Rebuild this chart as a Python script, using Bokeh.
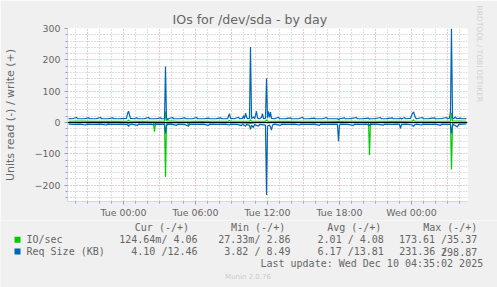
from bokeh.plotting import figure
from bokeh.layouts import column
from bokeh.models import Range1d, FixedTicker, Span, Title
from bokeh.core.properties import value
from bokeh.embed import file_html
from bokeh.resources import INLINE

# ---------------- data (hours relative to Tue 00:00) ----------------
tick_hours = [0, 6, 12, 18, 24]
tick_labels = ["Tue 00:00", "Tue 06:00", "Tue 12:00", "Tue 18:00", "Wed 00:00"]
y_ticks = [-200, -100, 0, 100, 200, 300]

# Req Size (KB) write (+)
req_w_t = [-4.58, -4.25, -3.92, -3.83, -3.25, -2.92, -2.83, -2.25, -1.92, -1.83, -1.25, -0.92, -0.83, -0.25,
           0.25, 0.33, 0.42, 0.5, 0.58, 0.92, 1.08, 1.17, 1.75, 2.08, 2.17, 2.75, 3.08, 3.17, 3.42, 3.5, 3.58,
           3.67, 3.75, 4.08, 4.17, 4.75, 5.08, 5.17, 5.75, 6.08, 6.17, 6.75, 7.08, 7.17, 7.75, 8.08, 8.17, 8.67,
           8.75, 8.83, 8.92, 9.25, 9.58, 9.67, 9.92, 10.0, 10.08, 10.17, 10.25, 10.33, 10.5, 10.58, 10.67, 10.83,
           10.92, 11.0, 11.08, 11.17, 11.33, 11.5, 11.58, 11.67, 11.83, 11.92, 12.0, 12.08, 12.17, 12.25, 12.33,
           12.58, 12.92, 13.0, 13.5, 13.92, 14.0, 14.58, 14.92, 15.0, 15.5, 15.92, 16.0, 16.58, 16.92, 17.0, 17.5,
           17.83, 17.92, 18.0, 18.42, 18.5, 18.92, 19.42, 19.5, 19.92, 20.42, 20.5, 20.58, 20.92, 21.42, 21.5,
           21.92, 22.42, 22.5, 22.92, 23.08, 23.17, 23.42, 23.5, 23.92, 24.0, 24.08, 24.17, 24.25, 24.33, 24.42,
           24.92, 25.0, 25.42, 25.92, 26.0, 26.42, 26.92, 27.0, 27.17, 27.25, 27.33, 27.42, 27.5, 27.67, 27.75,
           28.08, 28.17, 28.58]
req_w = [12.5, 12, 16, 12.5, 12, 15, 12, 12.5, 16, 12, 12, 15, 12, 12.5,
         13, 28, 36, 24, 13, 12, 15, 12, 12.5, 16, 12, 12, 15, 12, 12, 179, 16,
         9, 12, 16, 12, 12, 15, 12.5, 12, 16, 12, 12, 14, 12, 12.5, 15, 12, 12,
         20, 28, 13, 12, 17, 12, 13, 22, 12, 30, 18, 12, 13, 241, 13, 18,
         12, 22, 36, 14, 12, 16, 28, 12, 14, 141, 14, 36, 16, 33, 13,
         12, 17, 12, 12.5, 15, 12, 12, 17, 12, 12.5, 14, 12, 12, 16, 12, 12,
         12, 9, 12, 15, 12, 12.5, 16, 12, 12, 14, 11, 12, 12, 16, 12,
         12.5, 15, 12, 12, 14, 11, 16, 12, 13, 22, 29, 34, 24, 15, 12,
         16, 12, 12.5, 15, 12, 12, 16, 12, 14, 35, 299, 15, 12, 18, 12,
         14, 12, 12.46]

# Req Size (KB) read (-), magnitudes
req_r_t = [-4.58, -4.08, -3.58, -3.17, -3.08, -2.5, -1.92, -1.42, -1.33, -0.75, -0.17, 0.33, 0.42, 0.5, 0.67,
           1.17, 1.25, 1.83, 2.33, 2.5, 2.58, 3.42, 3.5, 3.58, 3.67, 4.0, 4.42, 4.5, 5.08, 5.42, 5.5, 6.17,
           6.67, 7.08, 7.17, 7.83, 8.5, 8.83, 8.92, 9.5, 9.83, 9.92, 10.17, 10.25, 10.5, 10.58, 10.67, 10.83,
           10.92, 11.25, 11.33, 11.83, 11.92, 12.0, 12.17, 12.25, 12.33, 12.42, 12.58, 13.08, 13.17, 13.75,
           14.25, 14.67, 14.75, 15.33, 15.92, 16.33, 16.42, 17.0, 17.5, 17.83, 17.92, 18.0, 18.08, 18.67,
           19.17, 19.25, 19.83, 20.25, 20.5, 20.58, 21.17, 21.67, 21.75, 22.33, 22.83, 23.0, 23.08, 23.17,
           23.58, 24.08, 24.17, 24.25, 24.42, 24.83, 24.92, 25.5, 26.0, 26.42, 26.5, 27.0, 27.25, 27.33,
           27.42, 27.5, 27.83, 27.92, 28.25, 28.58]
req_r = [5, 6, 5, 8, 5, 6, 5, 8, 5, 6, 5, 6, 13, 7, 5,
         9, 5, 6, 5, 8, 5, 6, 35, 12, 6, 5, 9, 5, 6, 12, 5, 6,
         5, 9, 5, 6, 5, 8, 5, 6, 10, 5, 12, 6, 9, 22, 8, 16,
         6, 12, 6, 8, 231, 12, 8, 15, 24, 8, 5, 9, 5, 6,
         5, 8, 5, 6, 5, 9, 5, 6, 5, 6, 60, 8, 5, 6,
         9, 5, 6, 5, 9, 5, 6, 8, 5, 6, 5, 6, 19, 6,
         5, 8, 13, 7, 5, 8, 5, 6, 5, 9, 5, 6, 6, 35,
         10, 6, 14, 6, 5, 4.10]

# IO/sec write (+)
io_w_t = [-4.58, -3.5, -2.5, -1.5, -0.5, 0.33, 0.42, 0.5, 1.5, 2.5, 3.42, 3.5, 3.58, 4.5, 5.5, 6.5, 7.5,
          8.75, 8.83, 8.92, 10.5, 10.58, 10.67, 11.83, 11.92, 12.0, 13.5, 15.0, 16.5, 18.0, 19.5, 21.0,
          22.5, 24.08, 24.17, 24.25, 25.5, 27.25, 27.33, 27.42, 28.58]
io_w = [4.0, 4.2, 3.9, 4.1, 3.9, 4.0, 8, 4.2, 3.9, 4.1, 4.0, 35.37, 5, 4.0, 4.1, 3.9, 4.0,
        4.0, 7, 4.0, 4.1, 9, 4.0, 4.0, 8, 4.1, 3.9, 4.0, 4.1, 3.9, 4.0, 4.1,
        3.9, 4.0, 9, 4.2, 4.0, 4.1, 31, 5, 4.06]

# IO/sec read (-), magnitudes
io_r_t = [-4.58, -3.5, -2.5, -1.5, -0.5, 0.33, 0.42, 0.5, 1.5, 2.5, 2.58, 2.67, 3.42, 3.5, 3.58, 4.5,
          5.33, 5.42, 5.5, 6.5, 8.0, 9.5, 10.58, 11.0, 12.5, 14.0, 15.5, 17.0, 18.5, 20.42, 20.5, 20.58,
          22.0, 23.5, 25.0, 26.5, 27.25, 27.33, 27.42, 28.58]
io_r = [0.6, 0.8, 0.5, 0.9, 0.6, 0.7, 4, 0.8, 0.6, 0.8, 29, 1.0, 0.8, 173.61, 3, 0.7,
        0.8, 10, 0.8, 0.6, 0.7, 0.6, 3, 0.8, 0.6, 0.7, 0.6, 0.8, 0.6, 0.7, 104, 1.0,
        0.6, 0.7, 0.6, 0.8, 0.8, 150, 2, 0.12]

series_names = ["IO/sec", "Req Size (KB)"]
legend_header = ["Cur (-/+)", "Min (-/+)", "Avg (-/+)", "Max (-/+)"]
io_cells = ["124.64m/ 4.06", "27.33m/ 2.86", "2.01 / 4.08", "173.61 /35.37"]
req_cells = ["4.10 /12.46", "3.82 / 8.49", "6.17 /13.81", "231.36 /", "298.87"]
last_update = "Last update: Wed Dec 10 04:35:02 2025"

# ---------------- main chart ----------------
W = 497
HA = 220           # height of chart part
FL, FR, FT, FB = 67, 467, 28, 203
GREEN = "#00CC00"
BLUE = "#0066B3"
AXIS = "#CFD6F8"
FONT = "#666666"
BG = "#F0F0F0"

p = figure(width=W, height=HA, output_backend="svg", toolbar_location=None,
           x_range=Range1d(-4.667, 28.667), y_range=Range1d(-252, 300),
           min_border_left=FL, min_border_right=W - FR, min_border_top=FT, min_border_bottom=HA - FB)
p.frame_align = False
p.border_fill_color = BG
p.background_fill_color = "#FFFFFF"
p.outline_line_color = None

p.title = Title(text="IOs for /dev/sda - by day", align="left", offset=105, standoff=3,
                vertical_align="bottom", text_font="DejaVu Sans", text_font_size="12.6px",
                text_font_style="normal", text_color=FONT)
p.add_layout(Title(text="RRDTOOL / TOBI OETIKER", align="left", offset=-23, standoff=10,
                   vertical_align="top", text_font="DejaVu Sans", text_font_size="7.5px",
                   text_font_style="normal", text_color="#D0D0D0"), "right")

# axes
p.xaxis.ticker = FixedTicker(ticks=tick_hours, minor_ticks=list(range(-4, 29)))
p.xaxis.major_label_overrides = dict(zip(tick_hours, tick_labels))
p.yaxis.ticker = FixedTicker(ticks=y_ticks, minor_ticks=list(range(-240, 301, 20)))
for ax in (p.xaxis[0], p.yaxis[0]):
    ax.axis_line_color = AXIS
    ax.major_tick_line_color = "#A0A0A0"
    ax.minor_tick_line_color = "#A0A0A0"
    ax.major_tick_in = 0
    ax.major_tick_out = 3
    ax.minor_tick_in = 0
    ax.minor_tick_out = 2
    ax.major_label_text_font = "DejaVu Sans"
    ax.major_label_text_font_size = "9.4px"
    ax.major_label_text_color = FONT
p.xaxis.major_label_standoff = 2
p.yaxis.major_label_standoff = 4
p.yaxis.axis_label = "Units read (-) / write (+)"
p.yaxis.axis_label_text_font = "DejaVu Sans"
p.yaxis.axis_label_text_font_size = "11px"
p.yaxis.axis_label_text_font_style = "normal"
p.yaxis.axis_label_text_color = FONT
p.yaxis.axis_label_standoff = 15

# grids
p.xgrid.ticker = FixedTicker(ticks=list(range(-3, 28, 3)),
                             minor_ticks=[h for h in range(-4, 29) if h % 3 != 0])
p.ygrid.ticker = FixedTicker(ticks=y_ticks,
                             minor_ticks=[v for v in range(-240, 300, 20) if v % 100 != 0])
for g in (p.xgrid[0], p.ygrid[0]):
    g.grid_line_color = "#E89090"
    g.grid_line_dash = "1 2"
    g.grid_line_width = 1
    g.minor_grid_line_color = "#BEBEBE"
    g.minor_grid_line_dash = "1 2"
    g.minor_grid_line_width = 1

# data
p.line(io_r_t, [-v for v in io_r], line_color=GREEN, line_width=1.2)
p.line(io_w_t, io_w, line_color=GREEN, line_width=1.2)
p.line(req_r_t, [-v for v in req_r], line_color=BLUE, line_width=1.2)
p.line(req_w_t, req_w, line_color=BLUE, line_width=1.2)
p.add_layout(Span(location=0, dimension="width", line_color="#000000", line_width=1))

# ---------------- legend part (pixel space) ----------------
HB = 287 - HA
q = figure(width=W, height=HB, output_backend="svg", toolbar_location=None,
           x_range=Range1d(0, W), y_range=Range1d(287, HA),
           x_axis_type=None, y_axis_type=None, min_border=0)
q.frame_align = False
q.grid.visible = False
q.outline_line_color = None
q.background_fill_color = BG
q.border_fill_color = BG

mono = value("DejaVu Sans Mono")
row_y = [227.3, 239.3, 251.0, 263.3, 276.7]
q.text(x=[134.3, 230.5, 326.7, 422.7], y=[row_y[0]] * 4, text=legend_header,
       text_font=mono, text_font_size="10px", text_color=FONT, text_baseline="middle", text_align="left")
q.rect(x=[17, 17], y=[row_y[1], row_y[2]], width=6, height=6, fill_color=[GREEN, BLUE],
       line_color=None)
q.text(x=[26, 26], y=[row_y[1], row_y[2]], text=series_names,
       text_font=mono, text_font_size="10px", text_color=FONT, text_baseline="middle", text_align="left")
q.text(x=[197, 290, 383.3, 476.7], y=[row_y[1]] * 4, text=io_cells,
       text_font=mono, text_font_size="10px", text_color=FONT, text_baseline="middle", text_align="right")
q.text(x=[197, 290, 383.3, 446.8, 476.7], y=[row_y[2]] * 5, text=req_cells,
       text_font=mono, text_font_size="10px", text_color=FONT, text_baseline="middle", text_align="right")
q.text(x=[482.7], y=[row_y[3]], text=[last_update],
       text_font=mono, text_font_size="10px", text_color=FONT, text_baseline="middle", text_align="right")
q.text(x=[247.5], y=[row_y[4]], text=["Munin 2.0.76"],
       text_font=value("DejaVu Sans"), text_font_size="7px", text_color="#CCCCCC",
       text_baseline="middle", text_align="center")

layout = column(p, q, spacing=0)
open("out.html", "w").write(file_html(layout, INLINE))
